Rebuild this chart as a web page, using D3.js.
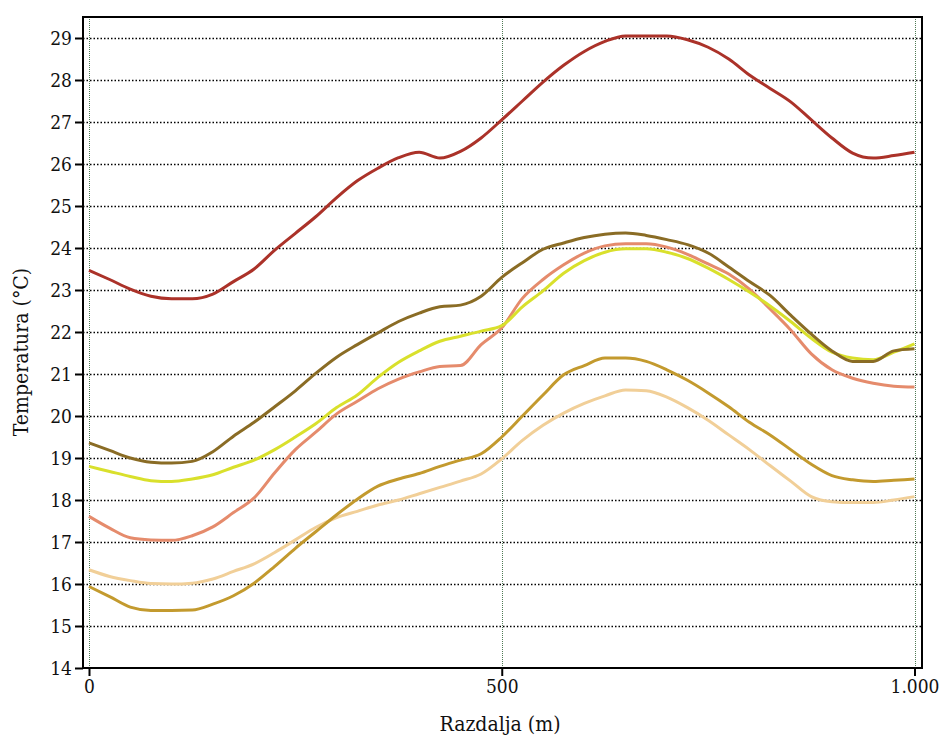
<!DOCTYPE html>
<html>
<head>
<meta charset="utf-8">
<script src="https://cdn.jsdelivr.net/npm/d3@7"></script>
<style>
  body { margin: 0; background: #fff; }
  svg { display: block; }
  svg text { font-stretch: condensed; }
</style>
</head>
<body>
<div id="chart"></div>
<script>
// distance along the profile (m)
var distance = [0, 25, 50, 75, 100, 125, 150, 175, 200, 225, 250, 275, 300, 325, 350, 375, 400,
  425, 450, 475, 500, 525, 550, 575, 600, 625, 650, 675, 700, 725, 750, 775, 800, 825, 850,
  875, 900, 925, 950, 975, 1000];

// temperature series (°C)
var seriesRed = [23.47, 23.25, 23.02, 22.85, 22.79, 22.79, 22.9, 23.2, 23.5, 23.95, 24.35, 24.75,
  25.2, 25.6, 25.9, 26.15, 26.28, 26.14, 26.3, 26.62, 27.05, 27.5, 27.95, 28.35, 28.68, 28.92,
  29.05, 29.05, 29.05, 28.96, 28.78, 28.5, 28.12, 27.8, 27.48, 27.05, 26.62, 26.26, 26.14, 26.2, 26.28];
var seriesOlive = [19.36, 19.18, 19.0, 18.9, 18.88, 18.92, 19.15, 19.52, 19.85, 20.22, 20.6, 21.02,
  21.4, 21.7, 21.98, 22.25, 22.45, 22.6, 22.64, 22.85, 23.3, 23.65, 23.97, 24.12, 24.25, 24.33,
  24.36, 24.3, 24.2, 24.08, 23.88, 23.55, 23.2, 22.87, 22.4, 21.95, 21.55, 21.3, 21.3, 21.55, 21.6];
var seriesYellow = [18.8, 18.68, 18.56, 18.46, 18.44, 18.5, 18.6, 18.78, 18.95, 19.2, 19.5, 19.82,
  20.2, 20.5, 20.92, 21.28, 21.55, 21.78, 21.9, 22.02, 22.15, 22.6, 22.98, 23.4, 23.7, 23.9,
  23.98, 23.98, 23.9, 23.75, 23.52, 23.25, 22.95, 22.62, 22.25, 21.85, 21.52, 21.38, 21.34, 21.52, 21.72];
var seriesSalmon = [17.61, 17.33, 17.1, 17.05, 17.04, 17.15, 17.36, 17.7, 18.05, 18.65, 19.2, 19.62,
  20.05, 20.35, 20.65, 20.88, 21.05, 21.18, 21.2, 21.7, 22.1, 22.8, 23.25, 23.6, 23.88, 24.05,
  24.1, 24.1, 24.02, 23.85, 23.62, 23.38, 23.02, 22.55, 22.05, 21.48, 21.1, 20.9, 20.78, 20.71, 20.69];
var seriesGold = [15.94, 15.7, 15.45, 15.37, 15.37, 15.38, 15.52, 15.72, 16.02, 16.42, 16.85, 17.25,
  17.65, 18.02, 18.33, 18.5, 18.63, 18.8, 18.95, 19.1, 19.5, 20.0, 20.5, 20.98, 21.2, 21.38,
  21.38, 21.3, 21.1, 20.85, 20.55, 20.22, 19.85, 19.55, 19.2, 18.85, 18.58, 18.48, 18.44, 18.47, 18.5];
var seriesTan = [16.34, 16.18, 16.08, 16.01, 16.0, 16.02, 16.12, 16.3, 16.48, 16.75, 17.05, 17.35,
  17.58, 17.73, 17.88, 18.0, 18.15, 18.3, 18.45, 18.62, 18.98, 19.42, 19.78, 20.07, 20.3, 20.48,
  20.62, 20.6, 20.45, 20.2, 19.9, 19.55, 19.2, 18.82, 18.45, 18.08, 17.96, 17.94, 17.94, 18.0, 18.08];

var yTicks = [14, 15, 16, 17, 18, 19, 20, 21, 22, 23, 24, 25, 26, 27, 28, 29];
var xTicks = [0, 500, 1000];

var series = [
  { values: seriesTan, color: "#f1cf98" },
  { values: seriesGold, color: "#c39a2e" },
  { values: seriesSalmon, color: "#e58b6c" },
  { values: seriesYellow, color: "#d9e02c" },
  { values: seriesOlive, color: "#8a6c25" },
  { values: seriesRed, color: "#ab3229" }
];

var serif = "'DejaVu Serif Condensed', 'DejaVu Serif', serif";

var w = 942;
var h = 738;
// plot frame edges
var frameLeft = 83, frameRight = 922, frameTop = 17, frameBottom = 668;

var svg = d3.select("#chart").append("svg").attr("width", w).attr("height", h);

var xScale = d3.scaleLinear().domain([0, 1000]).range([89, 914.5]);
var yScale = d3.scaleLinear().domain([14, 29]).range([668, 38]);

// horizontal dotted gridlines
svg.append("g")
  .selectAll("line")
  .data(yTicks.filter(function (d) { return d > 14; }))
  .enter()
  .append("line")
  .attr("x1", frameLeft)
  .attr("x2", frameRight)
  .attr("y1", function (d) { return Math.round(yScale(d)) + 0.5; })
  .attr("y2", function (d) { return Math.round(yScale(d)) + 0.5; })
  .attr("stroke", "#000")
  .attr("stroke-width", 1.5)
  .attr("stroke-dasharray", "1.5,2");

// vertical dotted gridlines
svg.append("g")
  .selectAll("line")
  .data(xTicks)
  .enter()
  .append("line")
  .attr("x1", function (d) { return Math.round(xScale(d)) + 0.5; })
  .attr("x2", function (d) { return Math.round(xScale(d)) + 0.5; })
  .attr("y1", frameTop)
  .attr("y2", frameBottom)
  .attr("stroke", "#4f7a55")
  .attr("stroke-width", 1)
  .attr("stroke-dasharray", "1,1");

// series lines
var line = d3.line()
  .x(function (d, i) { return xScale(distance[i]); })
  .y(function (d) { return yScale(d); })
  .curve(d3.curveMonotoneX);

svg.append("g")
  .selectAll("path")
  .data(series)
  .enter()
  .append("path")
  .attr("fill", "none")
  .attr("stroke", function (d) { return d.color; })
  .attr("stroke-width", 3)
  .attr("stroke-linejoin", "round")
  .attr("d", function (d) { return line(d.values); });

// frame
svg.append("rect")
  .attr("x", frameLeft)
  .attr("y", frameTop)
  .attr("width", frameRight - frameLeft)
  .attr("height", frameBottom - frameTop)
  .attr("fill", "none")
  .attr("stroke", "#000")
  .attr("stroke-width", 2);

// y-axis
var yAxis = svg.append("g")
  .attr("transform", "translate(" + frameLeft + ",0)")
  .call(d3.axisLeft(yScale).tickValues(yTicks).tickSize(8).tickPadding(3).tickFormat(d3.format("d")));
yAxis.attr("font-family", serif).attr("font-size", 19);
yAxis.select(".domain").remove();
yAxis.selectAll("line").attr("stroke-width", 2);
yAxis.selectAll("text").attr("fill", "#111");

// x-axis
var xAxis = svg.append("g")
  .attr("transform", "translate(0," + frameBottom + ")")
  .call(d3.axisBottom(xScale).tickValues(xTicks).tickSize(8).tickPadding(4)
    .tickFormat(function (d) { return d === 1000 ? "1.000" : d; }));
xAxis.attr("font-family", serif).attr("font-size", 19);
xAxis.select(".domain").remove();
xAxis.selectAll("line").attr("stroke-width", 2);
xAxis.selectAll("text").attr("fill", "#111");

// axis titles
svg.append("text")
  .attr("x", 500)
  .attr("y", 731)
  .attr("text-anchor", "middle")
  .attr("font-family", serif)
  .attr("font-size", 21)
  .attr("fill", "#111")
  .text("Razdalja (m)");

svg.append("text")
  .attr("transform", "translate(28," + 352 + ") rotate(-90)")
  .attr("text-anchor", "middle")
  .attr("font-family", serif)
  .attr("font-size", 21)
  .attr("fill", "#111")
  .text("Temperatura (°C)");
</script>
</body>
</html>
